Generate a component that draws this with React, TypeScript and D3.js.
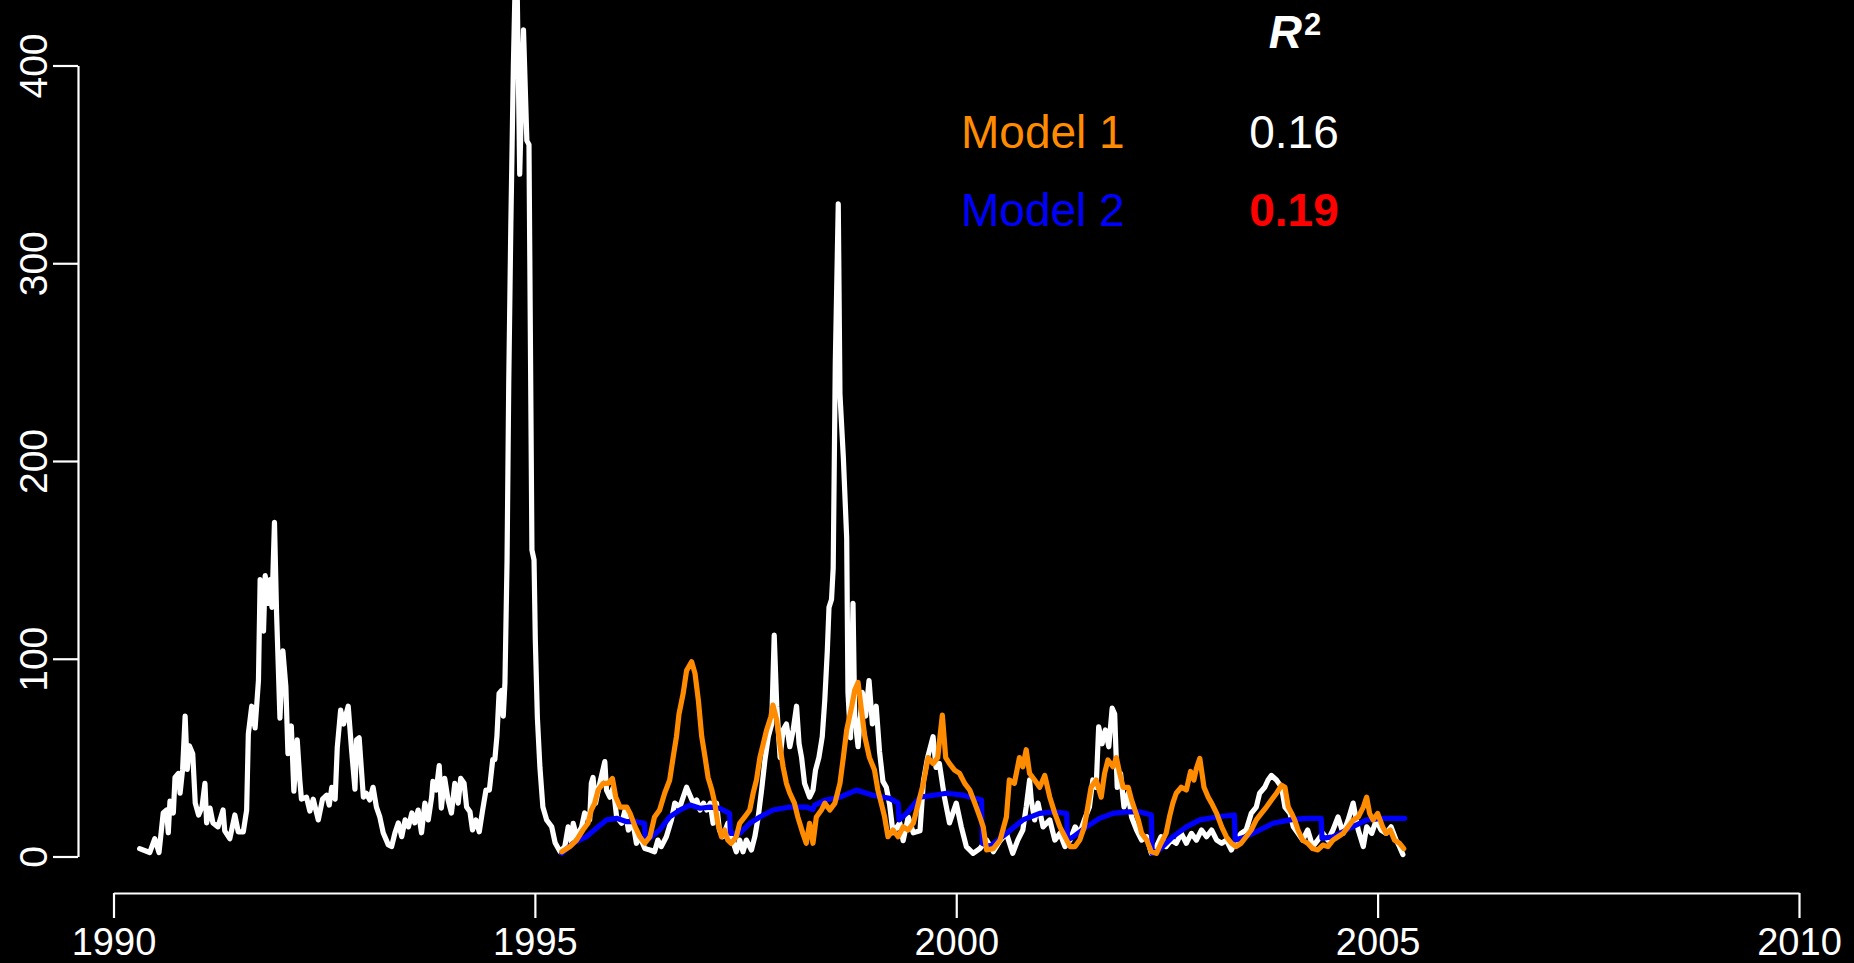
import React, { useRef, useEffect } from 'react';
import * as d3 from 'd3';

const observed: [number, number][] = [
  [1990.31, 4], [1990.43, 2], [1990.49, 9], [1990.54, 2], [1990.59, 22], [1990.63, 23.5],
  [1990.65, 12], [1990.67, 28], [1990.71, 22], [1990.73, 40], [1990.77, 42], [1990.79, 32],
  [1990.82, 44], [1990.85, 71], [1990.875, 44], [1990.9, 56], [1990.94, 52], [1990.97, 27],
  [1991.01, 21], [1991.05, 25], [1991.085, 37], [1991.105, 17], [1991.145, 24.5], [1991.18, 17],
  [1991.24, 15], [1991.3, 23.5], [1991.32, 13], [1991.38, 9], [1991.44, 21], [1991.48, 12.5],
  [1991.54, 12.5], [1991.58, 23.5], [1991.6, 62], [1991.64, 76], [1991.68, 65], [1991.72, 89],
  [1991.74, 140], [1991.78, 114], [1991.8, 142], [1991.84, 128], [1991.86, 140], [1991.88, 126],
  [1991.91, 169], [1991.935, 123], [1991.975, 70], [1992.01, 104], [1992.045, 86], [1992.07, 52],
  [1992.11, 66], [1992.14, 33], [1992.18, 59], [1992.21, 39], [1992.23, 29], [1992.29, 30],
  [1992.33, 23], [1992.37, 29], [1992.43, 18.5], [1992.48, 29], [1992.53, 31], [1992.56, 26],
  [1992.59, 35], [1992.63, 29], [1992.655, 55], [1992.695, 74], [1992.73, 67], [1992.785, 76],
  [1992.825, 54], [1992.865, 34], [1992.885, 59], [1992.915, 60], [1992.965, 30], [1993.0, 32],
  [1993.04, 28.6], [1993.08, 35], [1993.12, 25], [1993.16, 20], [1993.2, 12], [1993.26, 6],
  [1993.3, 5], [1993.34, 12], [1993.38, 17], [1993.42, 10], [1993.46, 18.5], [1993.5, 15],
  [1993.54, 22], [1993.575, 17], [1993.615, 23.5], [1993.655, 12], [1993.695, 27], [1993.735, 18.5],
  [1993.775, 30], [1993.79, 38], [1993.83, 33.6], [1993.865, 46], [1993.89, 24.5], [1993.93, 39.5],
  [1993.97, 28.6], [1994.01, 22], [1994.05, 37], [1994.09, 27], [1994.12, 39.5], [1994.16, 37],
  [1994.19, 25], [1994.23, 22.6], [1994.26, 13.4], [1994.3, 18.5], [1994.34, 12.5], [1994.38, 23.5],
  [1994.42, 33.6], [1994.46, 33.6], [1994.5, 49], [1994.525, 49], [1994.55, 61], [1994.575, 82.5],
  [1994.605, 84], [1994.625, 71], [1994.645, 88], [1994.67, 150], [1994.69, 240], [1994.715, 320],
  [1994.745, 400], [1994.78, 470], [1994.82, 345], [1994.865, 418], [1994.905, 362], [1994.93, 360],
  [1994.965, 155], [1994.99, 150], [1995.005, 110], [1995.03, 70], [1995.06, 45], [1995.095, 25],
  [1995.14, 18.5], [1995.2, 15], [1995.24, 7], [1995.3, 2.4], [1995.355, 5], [1995.395, 15],
  [1995.435, 6.7], [1995.455, 16.8], [1995.495, 10], [1995.555, 15], [1995.59, 22], [1995.65, 18.5],
  [1995.67, 37], [1995.69, 40], [1995.72, 27], [1995.77, 37], [1995.83, 48], [1995.85, 33.6],
  [1995.89, 30], [1995.93, 35], [1995.97, 20], [1996.03, 16.8], [1996.07, 23.5], [1996.11, 13.4],
  [1996.165, 16.8], [1996.205, 6.7], [1996.245, 10], [1996.305, 4], [1996.365, 3.3], [1996.42, 2.4],
  [1996.46, 8.3], [1996.5, 5], [1996.56, 10], [1996.62, 18.5], [1996.66, 27], [1996.72, 25],
  [1996.76, 30], [1996.8, 35], [1996.84, 31], [1996.88, 27], [1996.92, 28.6], [1996.96, 23.5],
  [1997.0, 27], [1997.04, 23.5], [1997.08, 27], [1997.115, 16.8], [1997.155, 27], [1997.19, 13.4],
  [1997.23, 10], [1997.29, 16.8], [1997.33, 10], [1997.39, 2.4], [1997.43, 8.3], [1997.47, 2.4],
  [1997.51, 8.3], [1997.57, 3.3], [1997.61, 10], [1997.65, 20], [1997.69, 33.6], [1997.73, 48.8],
  [1997.77, 60.6], [1997.81, 67], [1997.84, 112], [1997.87, 76], [1997.91, 50], [1997.945, 64],
  [1997.985, 67], [1998.025, 55.5], [1998.065, 64], [1998.105, 76], [1998.135, 57], [1998.165, 50],
  [1998.2, 37], [1998.26, 30], [1998.3, 33.6], [1998.33, 43.7], [1998.37, 50], [1998.41, 60.6],
  [1998.44, 79], [1998.47, 104], [1998.49, 126], [1998.52, 130], [1998.54, 146], [1998.565, 250],
  [1998.6, 330], [1998.62, 234], [1998.66, 202], [1998.7, 161], [1998.715, 83], [1998.745, 60],
  [1998.775, 128], [1998.795, 71], [1998.835, 55.5], [1998.885, 83], [1998.925, 71], [1998.965, 89],
  [1999.005, 67], [1999.05, 76], [1999.09, 53], [1999.13, 38], [1999.17, 35], [1999.21, 26],
  [1999.25, 12], [1999.33, 17], [1999.37, 8], [1999.43, 20], [1999.49, 12], [1999.57, 13],
  [1999.61, 38], [1999.66, 50], [1999.725, 60.6], [1999.76, 45], [1999.8, 47], [1999.86, 30],
  [1999.92, 17], [2000.0, 27], [2000.06, 15], [2000.12, 5], [2000.2, 1.6], [2000.28, 4],
  [2000.36, 8.3], [2000.44, 2.4], [2000.52, 8], [2000.595, 11.7], [2000.67, 1.6], [2000.73, 8.3],
  [2000.79, 13.4], [2000.83, 25], [2000.87, 38.7], [2000.89, 28.6], [2000.93, 18.5], [2000.97, 27],
  [2001.03, 15], [2001.11, 18.5], [2001.17, 8.3], [2001.23, 11.7], [2001.29, 5], [2001.35, 8.3],
  [2001.41, 15], [2001.465, 11.7], [2001.52, 18.5], [2001.58, 25], [2001.62, 38.7], [2001.66, 35],
  [2001.69, 65.6], [2001.73, 57], [2001.77, 64], [2001.81, 55.5], [2001.85, 75], [2001.88, 72],
  [2001.91, 35], [2001.95, 42], [2001.99, 25], [2002.04, 32], [2002.08, 20], [2002.14, 13.4],
  [2002.2, 8.3], [2002.26, 10], [2002.315, 1.6], [2002.375, 5], [2002.43, 10], [2002.49, 5],
  [2002.55, 8.3], [2002.61, 6.7], [2002.67, 11.7], [2002.73, 6.7], [2002.79, 11.7], [2002.85, 8.3],
  [2002.91, 13.4], [2002.97, 10], [2003.03, 13.4], [2003.09, 8.3], [2003.15, 6.7], [2003.205, 8.3],
  [2003.265, 3.3], [2003.32, 8.3], [2003.38, 11.7], [2003.44, 13.4], [2003.5, 21.8], [2003.56, 25],
  [2003.6, 32], [2003.66, 35], [2003.7, 38.7], [2003.74, 41], [2003.8, 38.7], [2003.86, 35],
  [2003.9, 25], [2003.96, 21.8], [2004.0, 15], [2004.055, 11.7], [2004.11, 8.3], [2004.17, 13.4],
  [2004.23, 5], [2004.29, 8.3], [2004.35, 11.7], [2004.41, 8.3], [2004.47, 13.4], [2004.53, 20],
  [2004.59, 11.7], [2004.65, 18.5], [2004.71, 27], [2004.77, 13.4], [2004.83, 5], [2004.87, 15],
  [2004.93, 11.7], [2004.985, 18.5], [2005.04, 13.4], [2005.1, 11.7], [2005.16, 15], [2005.22, 8.3],
  [2005.26, 5], [2005.3, 1]
];

// Model 1 (orange)
const model1: [number, number][] = [
  [1995.32, 2.4], [1995.415, 5], [1995.495, 8.3], [1995.57, 13.4], [1995.63, 16.8], [1995.67, 23.5],
  [1995.71, 27], [1995.75, 33.6], [1995.81, 37], [1995.87, 37], [1995.92, 39.5], [1995.96, 30],
  [1996.01, 25], [1996.09, 25], [1996.13, 21.8], [1996.19, 15], [1996.245, 10], [1996.305, 6.7],
  [1996.365, 10], [1996.42, 20], [1996.48, 23.5], [1996.54, 32], [1996.6, 38.7], [1996.64, 50],
  [1996.68, 60.6], [1996.71, 72], [1996.76, 82.5], [1996.8, 94], [1996.86, 98.5], [1996.9, 92.6],
  [1996.94, 79], [1996.98, 60.6], [1997.02, 50], [1997.055, 40], [1997.1, 33.6], [1997.135, 27],
  [1997.17, 16.8], [1997.215, 10], [1997.25, 13.4], [1997.29, 8.3], [1997.33, 6.7], [1997.39, 10],
  [1997.43, 16.8], [1997.49, 20], [1997.55, 23.5], [1997.59, 32], [1997.63, 38.7], [1997.67, 50],
  [1997.71, 57], [1997.75, 64], [1997.8, 70.7], [1997.825, 76.6], [1997.87, 69], [1997.91, 55.5],
  [1997.945, 45.4], [1997.985, 37], [1998.025, 32], [1998.08, 27], [1998.12, 20], [1998.18, 11.7],
  [1998.22, 6.7], [1998.26, 16.8], [1998.3, 6.7], [1998.34, 20], [1998.4, 23.5], [1998.44, 27],
  [1998.5, 23.5], [1998.56, 27], [1998.62, 37], [1998.66, 50], [1998.7, 64], [1998.76, 76],
  [1998.795, 84], [1998.835, 88], [1998.875, 74], [1998.915, 60.6], [1998.97, 50], [1999.03, 43.7],
  [1999.07, 33.6], [1999.11, 27], [1999.15, 20], [1999.19, 10], [1999.25, 13.4], [1999.31, 10],
  [1999.37, 15], [1999.43, 13.4], [1999.49, 16.8], [1999.55, 27], [1999.61, 37], [1999.665, 50],
  [1999.725, 47], [1999.78, 50], [1999.835, 71.5], [1999.875, 50], [1999.92, 47], [1999.98, 43.7],
  [2000.04, 42], [2000.1, 37], [2000.16, 33.6], [2000.22, 27], [2000.28, 20], [2000.32, 15],
  [2000.36, 3.3], [2000.44, 4], [2000.52, 8.3], [2000.595, 20], [2000.63, 38.7], [2000.69, 37],
  [2000.75, 50], [2000.79, 45.4], [2000.83, 54], [2000.87, 42], [2000.93, 38.7], [2000.99, 35],
  [2001.05, 41], [2001.11, 30], [2001.17, 21.8], [2001.23, 15], [2001.29, 10], [2001.35, 5],
  [2001.41, 5], [2001.465, 8.3], [2001.52, 15], [2001.56, 25], [2001.6, 35], [2001.66, 38.7],
  [2001.72, 30], [2001.76, 42], [2001.8, 48.8], [2001.86, 45.4], [2001.9, 50], [2001.94, 42],
  [2001.98, 35], [2002.04, 35], [2002.08, 28.6], [2002.12, 23.5], [2002.16, 18.5], [2002.2, 11.7],
  [2002.26, 8.3], [2002.315, 2.4], [2002.375, 1.6], [2002.43, 6.7], [2002.49, 11.7], [2002.53, 20],
  [2002.57, 27], [2002.61, 32], [2002.67, 35], [2002.73, 33.6], [2002.78, 43], [2002.82, 38.7],
  [2002.85, 44.6], [2002.89, 49.6], [2002.94, 35], [2002.99, 30], [2003.03, 27], [2003.09, 21.8],
  [2003.15, 15], [2003.205, 10], [2003.265, 6.7], [2003.32, 5], [2003.38, 6.7], [2003.44, 10],
  [2003.5, 13.4], [2003.56, 18.5], [2003.62, 21.8], [2003.68, 25], [2003.74, 28.6], [2003.8, 32],
  [2003.86, 36], [2003.9, 35], [2003.94, 25], [2003.98, 21.8], [2004.015, 18.5], [2004.055, 13.4],
  [2004.11, 8.3], [2004.17, 6.7], [2004.23, 4], [2004.29, 3.3], [2004.35, 5.8], [2004.41, 5],
  [2004.47, 8.3], [2004.53, 10], [2004.59, 11.7], [2004.65, 15], [2004.71, 18.5], [2004.77, 20],
  [2004.83, 25], [2004.87, 30], [2004.905, 21.8], [2004.945, 18.5], [2005.0, 21.8], [2005.06, 15],
  [2005.1, 11.7], [2005.15, 13.4], [2005.2, 8.3], [2005.26, 6.7], [2005.31, 4]
];

// Model 2 (blue), drops each spring
const model2: [number, number][] = [
  [1995.32, 1.6], [1995.455, 6.7], [1995.61, 10], [1995.75, 15], [1995.85, 18.5], [1995.97, 19.3],
  [1996.09, 17.6], [1996.205, 17.6], [1996.3, 16.8], [1996.31, 9.5], [1996.365, 9.2], [1996.48, 13.4],
  [1996.6, 20], [1996.72, 23.5], [1996.84, 26], [1996.96, 24.4], [1997.08, 25], [1997.19, 24.4],
  [1997.31, 21.8], [1997.32, 11.7], [1997.43, 11.7], [1997.55, 16.8], [1997.67, 20], [1997.825, 23.5],
  [1998.025, 25], [1998.22, 25], [1998.3, 23.8], [1998.32, 26], [1998.455, 28.6], [1998.62, 30],
  [1998.815, 33.6], [1999.01, 31], [1999.21, 29.4], [1999.31, 27], [1999.32, 18.5], [1999.41, 21.8],
  [1999.57, 30], [1999.725, 31], [1999.885, 32], [2000.08, 31], [2000.3, 28.6], [2000.31, 6.7],
  [2000.4, 5], [2000.595, 11.7], [2000.79, 18.5], [2000.99, 21.8], [2001.15, 22.6], [2001.31, 21.8],
  [2001.32, 8.3], [2001.39, 10], [2001.545, 15], [2001.7, 19.3], [2001.86, 21.8], [2002.02, 22.6],
  [2002.175, 22.6], [2002.315, 21], [2002.325, 1.6], [2002.41, 3.3], [2002.57, 10], [2002.73, 15],
  [2002.89, 18.5], [2003.09, 20], [2003.3, 21], [2003.31, 8.3], [2003.44, 10], [2003.6, 13.4],
  [2003.76, 16.8], [2003.96, 18.5], [2004.15, 19.3], [2004.33, 19.3], [2004.34, 9.2], [2004.47, 10],
  [2004.67, 14.3], [2004.87, 18.5], [2005.06, 19.3], [2005.32, 19.3]
];

const xTicks = [1990, 1995, 2000, 2005, 2010];
const yTicks = [0, 100, 200, 300, 400];

const legendRows = [
  { label: 'Model 1', value: '0.16', labelColor: '#FF8C00', valueColor: '#FFFFFF', bold: false },
  { label: 'Model 2', value: '0.19', labelColor: '#0000FF', valueColor: '#FF0000', bold: true }
];

const W = 1854;
const H = 963;
const FONT = '"Liberation Sans", Arial, Helvetica, sans-serif';

const App: React.FC = () => {
  const svgRef = useRef<SVGSVGElement>(null);

  useEffect(() => {
    if (!svgRef.current) return;
    document.body.style.margin = '0';
    document.body.style.background = '#000';

    const svg = d3.select(svgRef.current);
    svg.selectAll('*').remove();

    const x = d3.scaleLinear().domain([1990, 2010]).range([113.5, 1799]);
    const y = d3.scaleLinear().domain([0, 400]).range([856.5, 65.5]);

    svg.append('rect').attr('width', W).attr('height', H).attr('fill', '#000');

    // x axis
    const gx = svg
      .append('g')
      .attr('transform', 'translate(0,893)')
      .call(
        d3.axisBottom(x).tickValues(xTicks).tickFormat(d3.format('d')).tickSize(25).tickSizeOuter(0).tickPadding(10)
      );
    gx.selectAll('path, line').attr('stroke', '#fff').attr('stroke-width', 2.2);
    gx.selectAll('text').attr('fill', '#fff').style('font-size', '38px').style('font-family', FONT);

    // y axis, labels turned like R's las=0
    const gy = svg
      .append('g')
      .attr('transform', 'translate(78,0)')
      .call(d3.axisLeft(y).tickValues(yTicks).tickSize(25).tickSizeOuter(0));
    gy.selectAll('path, line').attr('stroke', '#fff').attr('stroke-width', 2.2);
    gy.selectAll('text')
      .attr('fill', '#fff')
      .attr('x', null)
      .attr('dy', null)
      .attr('text-anchor', 'middle')
      .attr('transform', 'translate(-31.5,0) rotate(-90)')
      .style('font-size', '39px')
      .style('font-family', FONT);

    const line = d3
      .line<[number, number]>()
      .x((d) => x(d[0]))
      .y((d) => y(d[1]));

    const series: [[number, number][], string][] = [
      [observed, '#FFFFFF'],
      [model2, '#0000FF'],
      [model1, '#FF8C00']
    ];
    series.forEach(([data, color]) => {
      svg
        .append('path')
        .datum(data)
        .attr('d', line)
        .attr('fill', 'none')
        .attr('stroke', color)
        .attr('stroke-width', 5.2)
        .attr('stroke-linejoin', 'round')
        .attr('stroke-linecap', 'round');
    });

    // legend
    const lg = svg.append('g').style('font-family', FONT).style('font-size', '46px');
    const r2 = lg.append('text').attr('x', 1295).attr('y', 48).attr('text-anchor', 'middle').attr('fill', '#fff');
    r2.append('tspan').text('R').style('font-weight', 'bold').style('font-style', 'italic');
    r2.append('tspan')
      .text('2')
      .attr('dy', -13)
      .attr('dx', 2)
      .style('font-weight', 'bold')
      .style('font-size', '31px');

    legendRows.forEach((row, i) => {
      const yy = 148 + i * 78;
      lg.append('text').attr('x', 961).attr('y', yy).attr('fill', row.labelColor).text(row.label);
      lg.append('text')
        .attr('x', 1294)
        .attr('y', yy)
        .attr('text-anchor', 'middle')
        .attr('fill', row.valueColor)
        .style('font-weight', row.bold ? 'bold' : 'normal')
        .text(row.value);
    });
  }, []);

  return (
    <svg
      ref={svgRef}
      width={W}
      height={H}
      style={{ position: 'absolute', left: 0, top: 0, display: 'block', background: '#000' }}
    />
  );
};

export default App;
